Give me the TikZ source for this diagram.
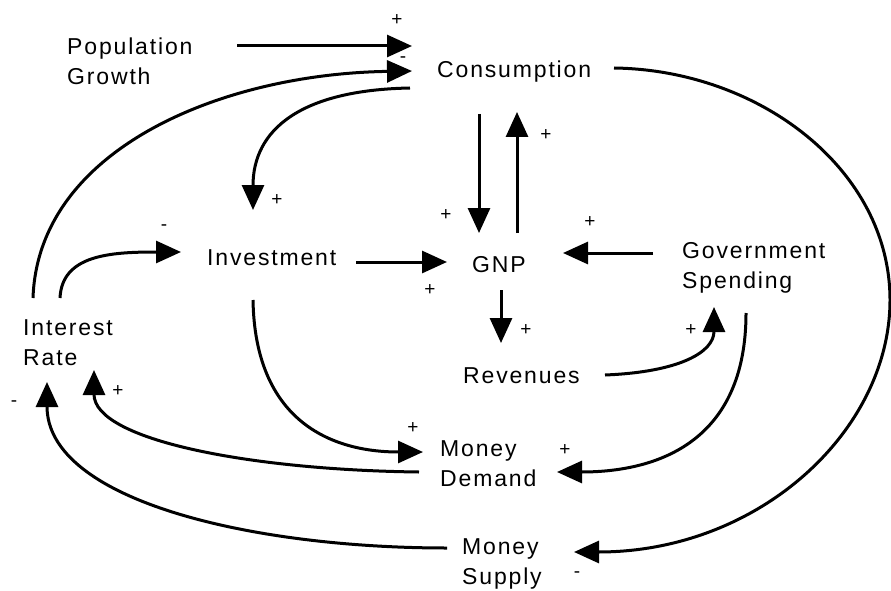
\documentclass[tikz,border=0pt]{standalone}
\usepackage{fontspec}
\setmainfont{Liberation Sans}[LetterSpace=8]
\usetikzlibrary{arrows.meta}
\begin{document}
\begin{tikzpicture}[x=1pt,y=-1pt,
  conn/.style={line width=3pt,-{Triangle[length=25pt,width=22pt]}},
  lbl/.style={font=\fontsize{23}{30}\selectfont,inner sep=0pt,align=left,anchor=base west},
  sgn/.style={font=\fontsize{19}{19}\selectfont,inner sep=0pt}]
\useasboundingbox (0,0) rectangle (891,591);
\fill[white] (0,0) rectangle (891,591);
% variables (multi-line nodes are placed by the baseline of their last line)
\node[lbl] (pop) at (67,85) {Population\\Growth};
\node[lbl] (cons) at (437,78) {Consumption};
\node[lbl] (gnp) at (472,272) {GNP};
\node[lbl] (inv) at (207,265) {Investment};
\node[lbl] (gov) at (682,288) {Government\\Spending};
\node[lbl] (ir) at (23,365) {Interest\\Rate};
\node[lbl] (rev) at (463,383) {Revenues};
\node[lbl] (md) at (440,486) {Money\\Demand};
\node[lbl] (ms) at (462,584) {Money\\Supply};
% connector end points
\coordinate (pop-o) at (237,46);   \coordinate (cons-i1) at (412,46);
\coordinate (ir-o1) at (33,298);   \coordinate (cons-i2) at (412,71);
\coordinate (cons-o1) at (410,88); \coordinate (inv-i1) at (253,210);
\coordinate (ir-o2) at (60,298);   \coordinate (inv-i2) at (181,252);
\coordinate (inv-o1) at (356,262); \coordinate (gnp-i1) at (447,262);
\coordinate (cons-o2) at (479,114);\coordinate (gnp-i2) at (479,233);
\coordinate (gnp-o1) at (517,233); \coordinate (cons-i3) at (517,112);
\coordinate (gov-o1) at (653,253); \coordinate (gnp-i3) at (563,253);
\coordinate (gnp-o2) at (501,290); \coordinate (rev-i) at (501,343);
\coordinate (rev-o) at (605,375);  \coordinate (gov-i) at (714,307);
\coordinate (gov-o2) at (746,313); \coordinate (md-i1) at (557,472);
\coordinate (inv-o2) at (253,300); \coordinate (md-i2) at (423,452);
\coordinate (md-o) at (419,472);   \coordinate (ir-i1) at (94,370);
\coordinate (ms-o) at (447,548);   \coordinate (ir-i2) at (47,382);
\coordinate (cons-o3) at (614,68); \coordinate (bend) at (890,300);
\coordinate (ms-i) at (574,552);
% connectors
\draw[conn] (pop-o) -- (cons-i1);
\draw[conn] (ir-o1) .. controls (38,150) and (220,74) .. (cons-i2);
\draw[conn] (cons-o1) .. controls (300,90) and (253,130) .. (inv-i1);
\draw[conn] (ir-o2) .. controls (62,255) and (110,252) .. (inv-i2);
\draw[conn] (inv-o1) -- (gnp-i1);
\draw[conn] (cons-o2) -- (gnp-i2);
\draw[conn] (gnp-o1) -- (cons-i3);
\draw[conn] (gov-o1) -- (gnp-i3);
\draw[conn] (gnp-o2) -- (rev-i);
\draw[conn] (rev-o) .. controls (680,372) and (714,352) .. (gov-i);
\draw[conn] (gov-o2) .. controls (746,440) and (660,472) .. (md-i1);
\draw[conn] (inv-o2) .. controls (255,420) and (330,452) .. (md-i2);
\draw[conn] (md-o) .. controls (250,470) and (94,440) .. (ir-i1);
\draw[conn] (ms-o) .. controls (250,548) and (47,500) .. (ir-i2);
\draw[conn] (cons-o3) .. controls (760,70) and (890,170) .. (bend)
  .. controls (890,430) and (760,552) .. (ms-i);
% polarity signs
\node[sgn] (s1) at (397,20) {+};
\node[sgn] (s2) at (403,60) {-};
\node[sgn] (s3) at (277,200) {+};
\node[sgn] (s4) at (164,228) {-};
\node[sgn] (s5) at (430,290) {+};
\node[sgn] (s6) at (446,215) {+};
\node[sgn] (s7) at (546,135) {+};
\node[sgn] (s8) at (590,222) {+};
\node[sgn] (s9) at (526,330) {+};
\node[sgn] (s10) at (691,330) {+};
\node[sgn] (s11) at (565,450) {+};
\node[sgn] (s12) at (413,428) {+};
\node[sgn] (s13) at (118,391) {+};
\node[sgn] (s14) at (14,404) {-};
\node[sgn] (s15) at (577,575) {-};
\end{tikzpicture}
\end{document}
